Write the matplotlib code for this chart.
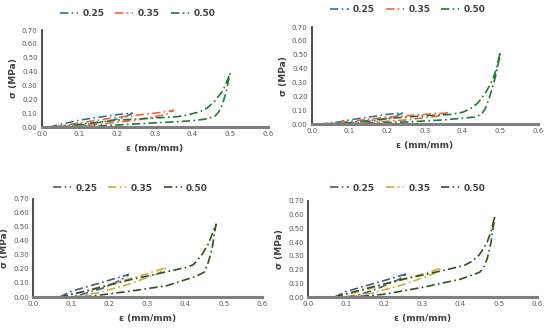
import matplotlib
matplotlib.use("Agg")
import matplotlib.pyplot as plt

plt.rcParams['font.family'] = ['DejaVu Sans']

labels = ["0.25", "0.35", "0.50"]
top_colors = ["#2b7b96", "#f2643c", "#1f7a35"]
bottom_colors = ["#47588a", "#c8ae3c", "#2f5025"]

# each series: (x, y) of a closed loading / unloading loop
tl_025_x = [0.02, 0.05, 0.10, 0.15, 0.20, 0.24, 0.22, 0.18, 0.12, 0.07, 0.05]
tl_025_y = [0.00, 0.02, 0.05, 0.07, 0.09, 0.10, 0.07, 0.045, 0.02, 0.005, 0.00]
tl_035_x = [0.03, 0.10, 0.20, 0.30, 0.35, 0.33, 0.25, 0.15, 0.07]
tl_035_y = [0.00, 0.03, 0.07, 0.10, 0.12, 0.09, 0.05, 0.02, 0.00]
tl_050_x = [0.04, 0.10, 0.20, 0.30, 0.36, 0.39, 0.42, 0.44, 0.46, 0.48, 0.49, 0.50,
            0.495, 0.49, 0.48, 0.47, 0.46, 0.44, 0.40, 0.30, 0.20, 0.10, 0.07]
tl_050_y = [0.00, 0.02, 0.05, 0.065, 0.075, 0.09, 0.11, 0.14, 0.19, 0.26, 0.32, 0.39,
            0.33, 0.26, 0.17, 0.11, 0.08, 0.06, 0.045, 0.03, 0.015, 0.003, 0.00]

tr_025_x = [0.02, 0.06, 0.10, 0.15, 0.20, 0.24, 0.22, 0.18, 0.12, 0.08, 0.06]
tr_025_y = [0.00, 0.01, 0.03, 0.05, 0.07, 0.08, 0.05, 0.03, 0.01, 0.002, 0.00]
tr_035_x = [0.03, 0.10, 0.20, 0.30, 0.36, 0.34, 0.25, 0.15, 0.08]
tr_035_y = [0.00, 0.02, 0.05, 0.07, 0.08, 0.06, 0.03, 0.01, 0.00]
tr_050_x = [0.04, 0.10, 0.20, 0.30, 0.37, 0.40, 0.42, 0.44, 0.46, 0.48, 0.49, 0.50,
            0.495, 0.49, 0.48, 0.47, 0.46, 0.45, 0.43, 0.35, 0.25, 0.15, 0.10]
tr_050_y = [0.00, 0.01, 0.04, 0.06, 0.07, 0.085, 0.11, 0.15, 0.22, 0.32, 0.40, 0.52,
            0.44, 0.37, 0.27, 0.18, 0.11, 0.07, 0.05, 0.03, 0.015, 0.005, 0.00]

bl_025_x = [0.07, 0.10, 0.15, 0.20, 0.25, 0.23, 0.18, 0.13, 0.10]
bl_025_y = [0.00, 0.04, 0.08, 0.12, 0.16, 0.12, 0.06, 0.02, 0.00]
bl_035_x = [0.07, 0.12, 0.20, 0.28, 0.35, 0.33, 0.25, 0.17, 0.11]
bl_035_y = [0.00, 0.03, 0.09, 0.15, 0.21, 0.17, 0.09, 0.03, 0.00]
bl_050_x = [0.07, 0.15, 0.25, 0.35, 0.40, 0.42, 0.44, 0.46, 0.47, 0.48,
            0.475, 0.47, 0.46, 0.45, 0.43, 0.35, 0.25, 0.15, 0.11]
bl_050_y = [0.00, 0.05, 0.12, 0.18, 0.21, 0.23, 0.29, 0.38, 0.45, 0.52,
            0.44, 0.35, 0.25, 0.18, 0.15, 0.08, 0.04, 0.005, 0.00]

br_025_x = [0.07, 0.10, 0.15, 0.20, 0.26, 0.24, 0.19, 0.14, 0.10]
br_025_y = [0.00, 0.04, 0.08, 0.12, 0.17, 0.13, 0.07, 0.02, 0.00]
br_035_x = [0.07, 0.12, 0.20, 0.28, 0.35, 0.33, 0.25, 0.17, 0.11]
br_035_y = [0.00, 0.03, 0.09, 0.15, 0.21, 0.17, 0.09, 0.03, 0.00]
br_050_x = [0.07, 0.15, 0.25, 0.35, 0.41, 0.43, 0.45, 0.47, 0.48, 0.49,
            0.485, 0.48, 0.47, 0.46, 0.45, 0.40, 0.30, 0.20, 0.12]
br_050_y = [0.00, 0.06, 0.13, 0.19, 0.23, 0.26, 0.31, 0.40, 0.48, 0.59,
            0.50, 0.40, 0.28, 0.21, 0.18, 0.13, 0.07, 0.02, 0.00]

panels = [
    ([0.076, 0.615, 0.411, 0.294], [(tl_025_x, tl_025_y), (tl_035_x, tl_035_y), (tl_050_x, tl_050_y)], top_colors, (0.25, 0.958)),
    ([0.567, 0.624, 0.411, 0.294], [(tr_025_x, tr_025_y), (tr_035_x, tr_035_y), (tr_050_x, tr_050_y)], top_colors, (0.742, 0.970)),
    ([0.060, 0.100, 0.416, 0.297], [(bl_025_x, bl_025_y), (bl_035_x, bl_035_y), (bl_050_x, bl_050_y)], bottom_colors, (0.237, 0.430)),
    ([0.560, 0.100, 0.416, 0.291], [(br_025_x, br_025_y), (br_035_x, br_035_y), (br_050_x, br_050_y)], bottom_colors, (0.742, 0.430)),
]

fig = plt.figure(figsize=(5.5, 3.3), dpi=100)

for rect, series, colors, leg_pos in panels:
    ax = fig.add_axes(rect)
    handles = []
    for (x, y), c, lab in zip(series, colors, labels):
        h, = ax.plot(x, y, color=c, lw=1.2, dashes=(5, 2, 1, 2), label=lab)
        handles.append(h)
    ax.set_xlim(0, 0.6)
    ax.set_ylim(0, 0.7)
    ax.set_xticks([0.0, 0.1, 0.2, 0.3, 0.4, 0.5, 0.6])
    ax.set_xticklabels(["0.0", "0.1", "0.2", "0.3", "0.4", "0.5", "0.6"])
    ax.set_yticks([0.0, 0.1, 0.2, 0.3, 0.4, 0.5, 0.6, 0.7])
    ax.set_yticklabels(["%.2f" % v for v in [0.0, 0.1, 0.2, 0.3, 0.4, 0.5, 0.6, 0.7]])
    ax.tick_params(length=0, labelsize=5, labelcolor="#595959", pad=3)
    for s in ["top", "right"]:
        ax.spines[s].set_visible(False)
    ax.spines["left"].set_color("#404040")
    ax.spines["left"].set_linewidth(1.3)
    ax.spines["bottom"].set_color("#7f7f7f")
    ax.spines["bottom"].set_linewidth(2.2)
    ax.set_xlabel("ε (mm/mm)", fontsize=6.5, fontweight="bold", color="#404040", labelpad=5)
    ax.set_ylabel("σ (MPa)", fontsize=6.5, fontweight="bold", color="#404040", labelpad=3)
    fig.legend(handles=handles, loc="center", bbox_to_anchor=leg_pos, ncol=3, frameon=False,
               prop={"size": 6.5, "weight": "bold"}, handlelength=2.0, columnspacing=1.2,
               handletextpad=0.5, labelcolor="#404040")

fig.savefig("out.png", dpi=100)
